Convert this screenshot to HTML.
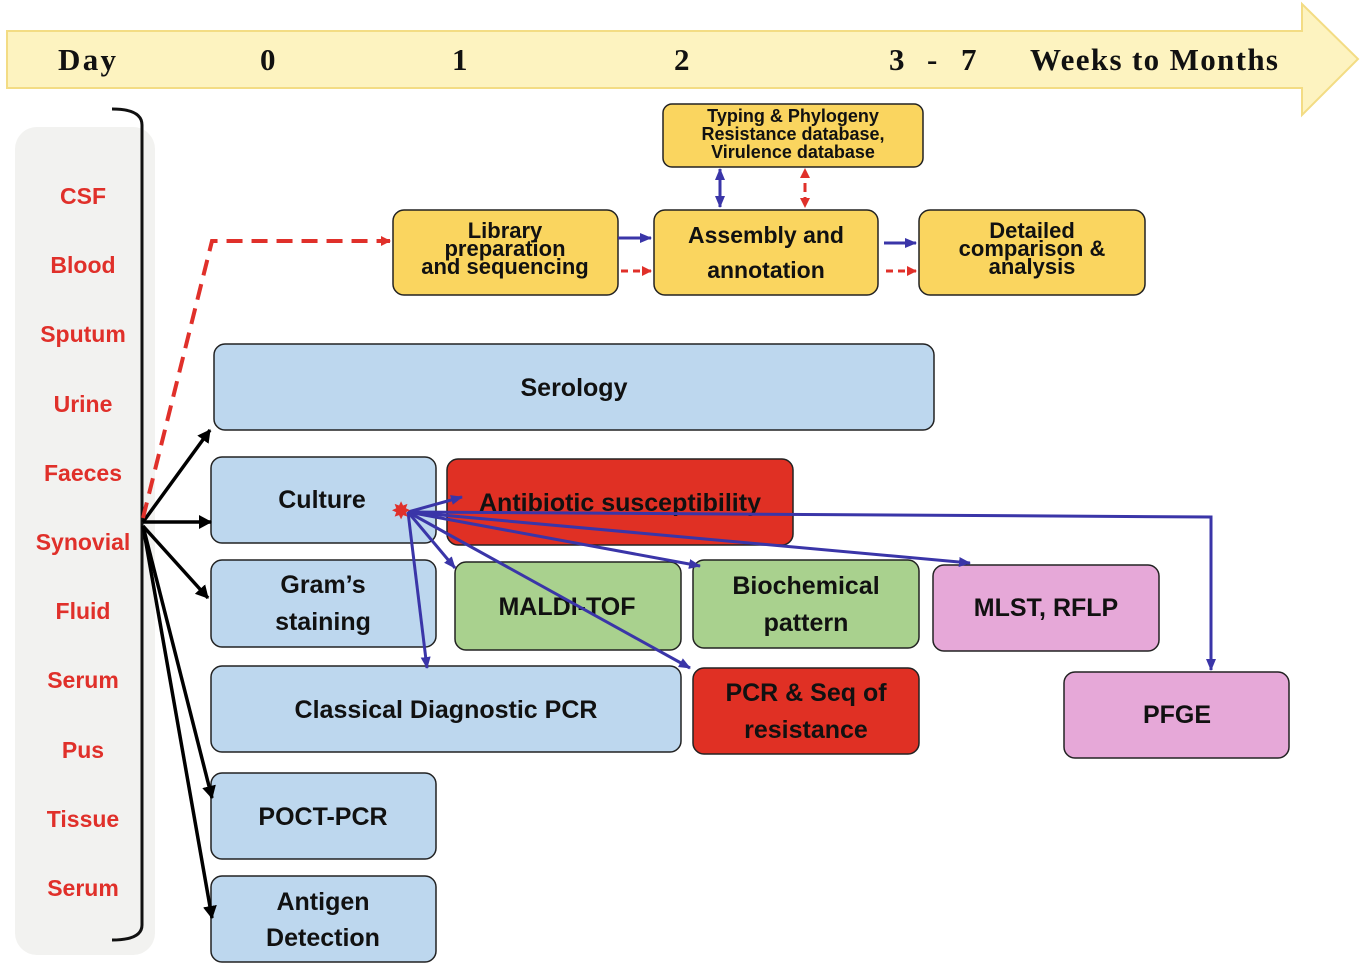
<!DOCTYPE html>
<html><head><meta charset="utf-8"><style>
body{margin:0;background:#fff}
svg{display:block}
.b{font-family:"Liberation Sans",sans-serif;font-weight:bold;fill:#111;text-anchor:middle}
.r{font-family:"Liberation Sans",sans-serif;font-weight:bold;fill:#e0302a;text-anchor:middle;font-size:23px}
.h{font-family:"Liberation Serif",serif;font-weight:bold;fill:#111;font-size:31px}
</style></head><body>
<svg width="1365" height="970" viewBox="0 0 1365 970">
<defs>
<marker id="au" markerWidth="12" markerHeight="10" refX="11" refY="5" orient="auto" markerUnits="userSpaceOnUse"><path d="M0,0 L12,5 L0,10z" fill="#3a35a8"/></marker>
<marker id="ar" markerWidth="10" markerHeight="10" refX="9" refY="5" orient="auto" markerUnits="userSpaceOnUse"><path d="M0,0 L10,5 L0,10z" fill="#e0302a"/></marker>
<marker id="abk" markerWidth="14" markerHeight="14" refX="12" refY="7" orient="auto" markerUnits="userSpaceOnUse"><path d="M0,0 L13,7 L0,14z" fill="#000"/></marker>
</defs>
<path d="M7,31 H1302 V4 L1358,59 L1302,115 V88 H7z" fill="#fdf3c0" stroke="#f3dc84" stroke-width="2"/>
<text class="h" x="58" y="70" textLength="58">Day</text>
<text class="h" x="260" y="70">0</text>
<text class="h" x="452" y="70">1</text>
<text class="h" x="674" y="70">2</text>
<text class="h" x="889" y="70">3</text>
<text class="h" x="927" y="70">-</text>
<text class="h" x="961" y="70">7</text>
<text class="h" x="1030" y="70" textLength="248">Weeks to Months</text>
<rect x="15" y="127" width="140" height="828" rx="22" fill="#f2f2f0"/>
<path d="M112,109 Q142,109 142,125 V925 Q142,940 112,940" fill="none" stroke="#111" stroke-width="3"/>
<g class="r">
<text x="83" y="204">CSF</text><text x="83" y="273">Blood</text><text x="83" y="342">Sputum</text><text x="83" y="412">Urine</text><text x="83" y="481">Faeces</text><text x="83" y="550">Synovial</text><text x="83" y="619">Fluid</text><text x="83" y="688">Serum</text><text x="83" y="758">Pus</text><text x="83" y="827">Tissue</text><text x="83" y="896">Serum</text>
</g>
<g stroke="#222" stroke-width="1.5">
<rect x="663" y="104" width="260" height="63" rx="9" fill="#fad55f"/>
<rect x="393" y="210" width="225" height="85" rx="11" fill="#fad55f"/>
<rect x="654" y="210" width="224" height="85" rx="11" fill="#fad55f"/>
<rect x="919" y="210" width="226" height="85" rx="11" fill="#fad55f"/>
<rect x="214" y="344" width="720" height="86" rx="11" fill="#bdd7ee"/>
<rect x="211" y="457" width="225" height="86" rx="11" fill="#bdd7ee"/>
<rect x="447" y="459" width="346" height="86" rx="11" fill="#e03024"/>
<rect x="211" y="560" width="225" height="87" rx="11" fill="#bdd7ee"/>
<rect x="455" y="562" width="226" height="88" rx="11" fill="#a9d18e"/>
<rect x="693" y="560" width="226" height="88" rx="11" fill="#a9d18e"/>
<rect x="933" y="565" width="226" height="86" rx="11" fill="#e6a8d8"/>
<rect x="211" y="666" width="470" height="86" rx="11" fill="#bdd7ee"/>
<rect x="693" y="668" width="226" height="86" rx="11" fill="#e03024"/>
<rect x="1064" y="672" width="225" height="86" rx="11" fill="#e6a8d8"/>
<rect x="211" y="773" width="225" height="86" rx="11" fill="#bdd7ee"/>
<rect x="211" y="876" width="225" height="86" rx="11" fill="#bdd7ee"/>
</g>
<g class="b">
<text x="793" y="122" font-size="18">Typing &amp; Phylogeny</text>
<text x="793" y="140" font-size="18">Resistance database,</text>
<text x="793" y="158" font-size="18">Virulence database</text>
<text x="505" y="238" font-size="22">Library</text>
<text x="505" y="256" font-size="22">preparation</text>
<text x="505" y="274" font-size="22">and sequencing</text>
<text x="766" y="243" font-size="23">Assembly and</text>
<text x="766" y="278" font-size="23">annotation</text>
<text x="1032" y="238" font-size="22">Detailed</text>
<text x="1032" y="256" font-size="22">comparison  &amp;</text>
<text x="1032" y="274" font-size="22">analysis</text>
<text x="574" y="396" font-size="25">Serology</text>
<text x="322" y="508" font-size="25">Culture</text>
<text x="620" y="511" font-size="25">Antibiotic susceptibility</text>
<text x="323" y="593" font-size="25">Gram’s</text>
<text x="323" y="630" font-size="25">staining</text>
<text x="567" y="615" font-size="25">MALDI-TOF</text>
<text x="806" y="594" font-size="25">Biochemical</text>
<text x="806" y="631" font-size="25">pattern</text>
<text x="1046" y="616" font-size="25">MLST, RFLP</text>
<text x="446" y="718" font-size="25">Classical Diagnostic PCR</text>
<text x="806" y="701" font-size="25">PCR &amp; Seq of</text>
<text x="806" y="738" font-size="25">resistance</text>
<text x="1177" y="723" font-size="25">PFGE</text>
<text x="323" y="825" font-size="25">POCT-PCR</text>
<text x="323" y="910" font-size="25">Antigen</text>
<text x="323" y="946" font-size="25">Detection</text>
</g>
<g stroke="#000" stroke-width="3.5" fill="none" marker-end="url(#abk)">
<line x1="143" y1="522" x2="210" y2="430"/>
<line x1="143" y1="522" x2="211" y2="522"/>
<line x1="143" y1="526" x2="208" y2="598"/>
<line x1="143" y1="526" x2="212" y2="798"/>
<line x1="143" y1="526" x2="212" y2="918"/>
</g>
<polyline points="143,518 212,241 390,241" fill="none" stroke="#e0302a" stroke-width="4" stroke-dasharray="16,9" marker-end="url(#ar)"/>
<g stroke="#3a35a8" stroke-width="3" fill="none" marker-end="url(#au)">
<line x1="408" y1="512" x2="462" y2="497"/>
<line x1="408" y1="512" x2="455" y2="568"/>
<line x1="408" y1="512" x2="427" y2="668"/>
<line x1="408" y1="512" x2="700" y2="566"/>
<line x1="408" y1="512" x2="970" y2="563"/>
<line x1="408" y1="512" x2="690" y2="668"/>
<polyline points="408,512 1211,517 1211,670"/>
<line x1="618" y1="238" x2="651" y2="238"/>
<line x1="884" y1="243" x2="916" y2="243"/>
<line x1="720" y1="200" x2="720" y2="169"/>
<line x1="720" y1="175" x2="720" y2="207"/>
</g>
<g stroke="#e0302a" stroke-width="3" fill="none" stroke-dasharray="7,5" marker-end="url(#ar)">
<line x1="621" y1="271" x2="651" y2="271"/>
<line x1="886" y1="271" x2="916" y2="271"/>
<line x1="805" y1="190" x2="805" y2="169"/>
<line x1="805" y1="185" x2="805" y2="207"/>
</g>
<text x="401" y="519" font-size="24" fill="#e0302a" text-anchor="middle" font-family="DejaVu Sans">✸</text>
</svg>
</body></html>
